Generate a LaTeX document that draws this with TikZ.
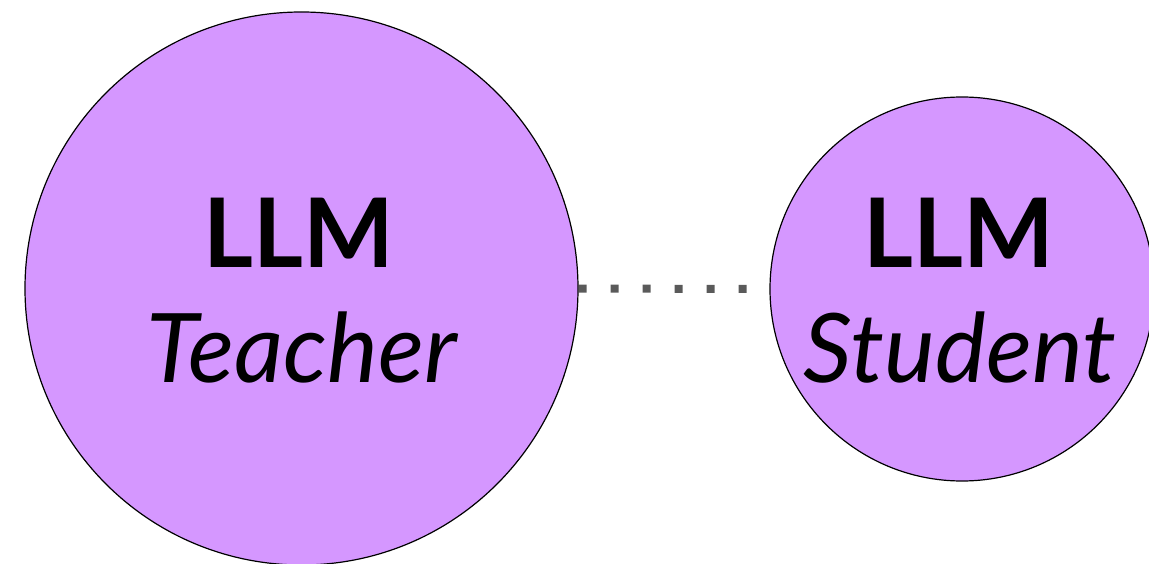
\documentclass[tikz,border=0pt]{standalone}
\usepackage{fontspec}
\setmainfont{Lato}
\usetikzlibrary{backgrounds}
\definecolor{llmfill}{HTML}{D597FF}
\definecolor{dotgray}{HTML}{5A5A5A}
\tikzset{
  llmcircle/.style={circle, draw=black, line width=1.2pt, fill=llmfill, inner sep=0pt},
  bigtext/.style={anchor=base, inner sep=0pt, font=\fontsize{96}{110}\selectfont},
  dotline/.style={dotgray, line width=8pt, dash pattern=on 8pt off 24pt}
}
\begin{document}
\begin{tikzpicture}[x=1pt,y=-1pt]
\useasboundingbox (0,0) rectangle (1149,564);
\node[llmcircle, minimum size=553pt] (teacher) at (301.5,288.5) {};
\node[llmcircle, minimum size=384pt] (student) at (962,289) {};
\node[bigtext] (t1) at (299,268) {\bfseries LLM};
\node[bigtext] (t2) at (302,382) {\itshape Teacher};
\node[bigtext] (s1) at (959,268) {\bfseries LLM};
\node[bigtext] (s2) at (960,382) {\itshape Student};
\begin{pgfonlayer}{background}
\draw[dotline] (teacher.east) -- (student.west);
\end{pgfonlayer}
\end{tikzpicture}
\end{document}
